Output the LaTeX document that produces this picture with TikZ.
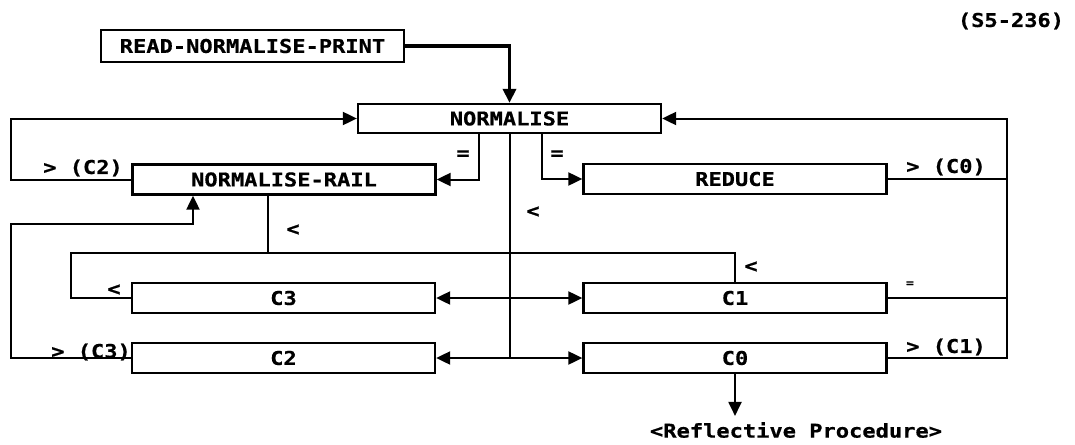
\documentclass[tikz,border=0pt]{standalone}
\usepackage{fontspec}
\newfontfamily\lpfont{DejaVu Sans Mono Bold}[FakeStretch=1.16,FakeBold=0.6]
\usetikzlibrary{arrows.meta}

\begin{document}
\begin{tikzpicture}[x=1pt,y=-1pt,
  font=\lpfont\fontsize{19}{21}\selectfont,
  box/.style={draw,line width=2.3pt,minimum width=303pt,minimum height=30pt,inner sep=0pt},
  lbl/.style={inner sep=0pt},
  wire/.style={line width=2pt},
  tip/.style={wire,-{Triangle[length=14pt,width=13pt]}},
  twotip/.style={wire,{Triangle[length=14pt,width=13pt]}-{Triangle[length=14pt,width=13pt]}}]
\useasboundingbox (0,0) rectangle (1075,444);
% boxes
\node[box,minimum height=32pt] (rnp) at (252.5,46) {READ-NORMALISE-PRINT};
\node[box,minimum height=29pt] (norm) at (509.5,118.5) {NORMALISE};
\node[box] (rail) at (284,179.5) {NORMALISE-RAIL};
\node[box] (reduce) at (735,179) {REDUCE};
\node[box] (cthree) at (283.5,298) {C3};
\node[box] (cone) at (735,298) {C1};
\node[box] (ctwo) at (283.5,358) {C2};
\node[box] (czero) at (735,358) {C0};
\node[lbl] (proc) at (796,430) {<Reflective Procedure>};
% corner points
\coordinate (lft) at (11,0);
\coordinate (rgt) at (1007,0);
\coordinate (railin) at (193,224);
\coordinate (ltrail) at (71,253);
% labels
\node[lbl] (sno) at (1011,21) {(S5-236)};
\node[lbl] (gtc2) at (83,168) {> (C2)};
\node[lbl] (gtc3) at (91,352) {> (C3)};
\node[lbl] (gtc0) at (946,167) {> (C0)};
\node[lbl] (gtc1) at (946,347) {> (C1)};
\node[lbl] (eqa) at (463,155) {=};
\node[lbl] (eqb) at (557,155) {=};
\node[lbl,font=\lpfont\fontsize{11}{12}\selectfont] (eqc) at (910,284) {=};
\node[lbl] (lta) at (533,212) {<};
\node[lbl] (ltb) at (293,230) {<};
\node[lbl] (ltc) at (114,290) {<};
\node[lbl] (ltd) at (751,267) {<};
% connectors
\draw[tip,line width=3.6pt] (rnp.east) -| (norm.north);
\draw[tip] (rail.west) -- (rail.west -| lft) |- (norm.west);
\draw[tip] ([xshift=-30.5pt]norm.south) |- (rail.east);
\draw[tip] ([xshift=32.5pt]norm.south) |- (reduce.west);
\draw[wire] (norm.south) -- (norm.south |- ctwo.east);
\draw[twotip] (cthree.east) -- (cone.west);
\draw[twotip] (ctwo.east) -- (czero.west);
\draw[tip] (czero.east) -- (czero.east -| rgt) |- (norm.east);
\draw[wire] (reduce.east) -- (reduce.east -| rgt);
\draw[wire] (cone.east) -- (cone.east -| rgt);
\draw[tip] (ctwo.west) -- (ctwo.west -| lft) |- (railin) -- (railin |- rail.south);
\draw[wire] (cthree.west) -| (ltrail) -| (cone.north);
\draw[wire] ([xshift=-16pt]rail.south) -- ([xshift=-16pt]rail.south |- ltrail);
\draw[tip,shorten >=6pt] (czero.south) -- (czero.south |- proc.north);
\end{tikzpicture}
\end{document}
